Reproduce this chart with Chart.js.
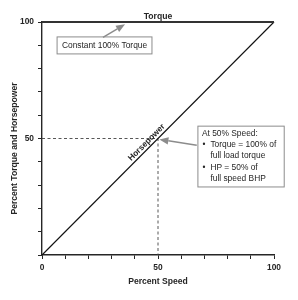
<!DOCTYPE html>
<html>
<head>
<meta charset="utf-8">
<script src="https://cdn.jsdelivr.net/npm/chart.js@4/dist/chart.umd.min.js"></script>
<style>
  html, body { margin: 0; padding: 0; background: #fff; }
  #wrap { position: relative; width: 298px; height: 300px; }
</style>
</head>
<body>
<div id="wrap"><canvas id="chart"></canvas></div>
<script>
// Datos de la gráfica
const speed = [0, 100];
const torque = [100, 100];
const horsepower = [0, 100];
const refX = [0, 50, 50];
const refY = [50, 50, 0];
const xTickLabels = [0, 50, 100];
const yTickLabels = [50, 100];

const FONT = '"Liberation Sans", Arial, Helvetica, sans-serif';
const INK = '#262626';
const GREY = '#8c8c8c';

const toPoints = (xs, ys) => xs.map((x, i) => ({ x: x, y: ys[i] }));

// Anotaciones (en unidades de datos)
const notes = {
    torqueLabel: { x: 50, y: 100 },
    hpLabel: { x: 46.7 },
    box1: { x0: 6.5, x1: 47.4, y0: 93.6, y1: 86.3 },
    arrow1: { x0: 26.3, y0: 93.4, x1: 35.8, y1: 99 },
    box2: { x0: 67.2, x1: 104.4, y0: 55.3, y1: 29.2 },
    arrow2: { x0: 66.7, y0: 47.1, x1: 50.6, y1: 49.6 }
};

function drawArrow(ctx, x0, y0, x1, y1) {
    const ang = Math.atan2(y1 - y0, x1 - x0);
    const head = 9, half = 3.6;
    const bx = x1 - head * Math.cos(ang), by = y1 - head * Math.sin(ang);
    ctx.save();
    ctx.strokeStyle = GREY;
    ctx.fillStyle = GREY;
    ctx.lineWidth = 1.5;
    ctx.beginPath();
    ctx.moveTo(x0, y0);
    ctx.lineTo(bx, by);
    ctx.stroke();
    ctx.beginPath();
    ctx.moveTo(x1, y1);
    ctx.lineTo(bx + half * Math.sin(ang), by - half * Math.cos(ang));
    ctx.lineTo(bx - half * Math.sin(ang), by + half * Math.cos(ang));
    ctx.closePath();
    ctx.fill();
    ctx.restore();
}

const annotations = {
    id: 'annotations',
    afterDatasetsDraw(chart) {
        const ctx = chart.ctx;
        const xs = chart.scales.x, ys = chart.scales.y;
        const px = v => xs.getPixelForValue(v);
        const py = v => ys.getPixelForValue(v);
        ctx.save();

        // Etiqueta Torque
        ctx.fillStyle = INK;
        ctx.font = 'bold 8.6px ' + FONT;
        ctx.textAlign = 'center';
        ctx.textBaseline = 'bottom';
        ctx.fillText('Torque', px(notes.torqueLabel.x), py(notes.torqueLabel.y) - 1.5);

        // Etiqueta Horsepower sobre la diagonal
        const hx = px(notes.hpLabel.x), hy = py(notes.hpLabel.x);
        const ang = Math.atan2(py(100) - py(0), px(100) - px(0));
        ctx.save();
        ctx.translate(hx, hy);
        ctx.rotate(ang);
        ctx.font = 'bold 8.4px ' + FONT;
        ctx.textBaseline = 'bottom';
        ctx.fillText('Horsepower', 0, -1);
        ctx.restore();

        // Caja 1
        const b1 = notes.box1;
        ctx.fillStyle = '#fff';
        ctx.strokeStyle = GREY;
        ctx.lineWidth = 1;
        const r1 = [px(b1.x0), py(b1.y0), px(b1.x1) - px(b1.x0), py(b1.y1) - py(b1.y0)];
        ctx.fillRect(...r1);
        ctx.strokeRect(...r1);
        ctx.fillStyle = INK;
        ctx.font = '8.4px ' + FONT;
        ctx.textAlign = 'center';
        ctx.textBaseline = 'middle';
        ctx.fillText('Constant 100% Torque', r1[0] + r1[2] / 2, r1[1] + r1[3] / 2 + 0.5);
        const a1 = notes.arrow1;
        drawArrow(ctx, px(a1.x0), py(a1.y0), px(a1.x1), py(a1.y1));

        // Caja 2
        const b2 = notes.box2;
        const r2 = [px(b2.x0), py(b2.y0), px(b2.x1) - px(b2.x0), py(b2.y1) - py(b2.y0)];
        ctx.fillStyle = '#fff';
        ctx.fillRect(...r2);
        ctx.strokeStyle = GREY;
        ctx.strokeRect(...r2);
        ctx.fillStyle = INK;
        ctx.textAlign = 'left';
        const lines = [
            ['', 'At 50% Speed:'],
            ['\u2022', 'Torque = 100% of'],
            ['', 'full load torque'],
            ['\u2022', 'HP = 50% of'],
            ['', 'full speed BHP']
        ];
        const lx = r2[0] + 4;
        lines.forEach((ln, i) => {
            const ly = r2[1] + 7.5 + i * 11.2;
            if (i === 0) {
                ctx.fillText(ln[1], lx, ly);
            } else {
                if (ln[0]) ctx.fillText(ln[0], lx + 0.5, ly);
                ctx.fillText(ln[1], lx + 8.5, ly);
            }
        });
        const a2 = notes.arrow2;
        drawArrow(ctx, px(a2.x0), py(a2.y0), px(a2.x1), py(a2.y1));

        // Título del eje Y
        ctx.save();
        ctx.fillStyle = INK;
        ctx.translate(15, (chart.chartArea.top + chart.chartArea.bottom) / 2 + 10);
        ctx.rotate(-Math.PI / 2);
        ctx.font = 'bold 8.6px ' + FONT;
        ctx.textAlign = 'center';
        ctx.textBaseline = 'middle';
        ctx.fillText('Percent Torque and Horsepower', 0, 0);
        ctx.restore();

        ctx.restore();
    }
};

new Chart(document.getElementById('chart'), {
    type: 'scatter',
    data: {
        datasets: [
            {
                label: 'Torque',
                data: toPoints(speed, torque),
                showLine: true,
                borderColor: '#333',
                borderWidth: 2,
                pointRadius: 0,
                clip: false
            },
            {
                label: 'Horsepower',
                data: toPoints(speed, horsepower),
                showLine: true,
                borderColor: '#111',
                borderWidth: 1.1,
                pointRadius: 0,
                clip: false
            },
            {
                label: '50%',
                data: toPoints(refX, refY),
                showLine: true,
                borderColor: '#444',
                borderWidth: 0.9,
                borderDash: [3, 2.5],
                pointRadius: 0,
                clip: false
            }
        ]
    },
    options: {
        responsive: true,
        maintainAspectRatio: false,
        animation: false,
        events: [],
        layout: { padding: { left: 0, right: 24, top: 22, bottom: 0 } },
        plugins: {
            legend: { display: false },
            tooltip: { enabled: false }
        },
        scales: {
            x: {
                type: 'linear',
                min: 0,
                max: 100,
                afterFit(scale) { scale.height = 45; },
                border: { display: true, color: INK, width: 1.4 },
                grid: { drawOnChartArea: false, drawTicks: true, tickLength: 4, color: INK, tickWidth: 1 },
                ticks: {
                    stepSize: 10,
                    padding: 4,
                    color: INK,
                    font: { family: FONT, size: 8.4, weight: 'bold' },
                    maxRotation: 0,
                    autoSkip: false,
                    callback: v => xTickLabels.includes(v) ? String(v) : ''
                },
                title: {
                    display: true,
                    text: 'Percent Speed',
                    color: INK,
                    font: { family: FONT, size: 8.6, weight: 'bold' },
                    padding: { top: 0, bottom: 13 }
                }
            },
            y: {
                type: 'linear',
                min: 0,
                max: 100,
                afterFit(scale) { scale.width = 42; },
                border: { display: true, color: INK, width: 1.4 },
                grid: { drawOnChartArea: false, drawTicks: true, tickLength: 4, color: INK, tickWidth: 1 },
                ticks: {
                    stepSize: 10,
                    padding: 4,
                    color: INK,
                    font: { family: FONT, size: 8.4, weight: 'bold' },
                    autoSkip: false,
                    callback: v => yTickLabels.includes(v) ? String(v) : ''
                }
            }
        }
    },
    plugins: [annotations]
});
</script>
</body>
</html>
